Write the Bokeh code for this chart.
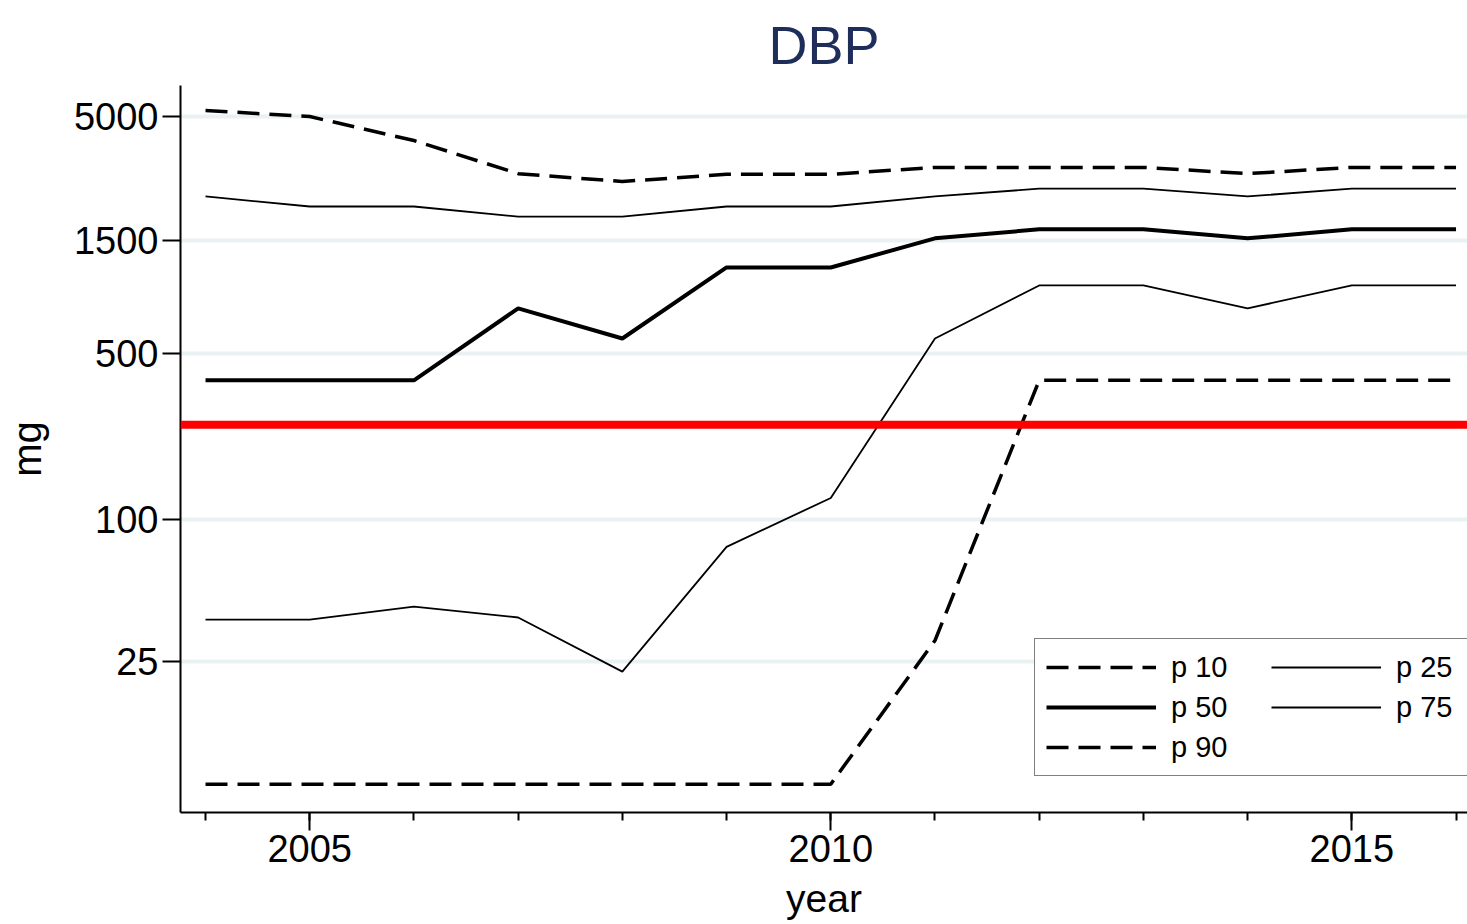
from bokeh.plotting import figure
from bokeh.models import (Range1d, FixedTicker, Legend, LegendItem, Span)
from bokeh.embed import file_html
from bokeh.resources import INLINE

years = list(range(2004, 2017))
p10 = [7.6, 7.6, 7.6, 7.6, 7.6, 7.6, 7.6, 30.7, 385, 385, 385, 385, 385]
p25 = [37.6, 37.6, 42.7, 38.4, 22.7, 76.3, 122.7, 578, 968, 968, 775, 968, 968]
p50 = [385, 385, 385, 775, 578, 1153, 1153, 1530, 1670, 1670, 1530, 1670, 1670]
p75 = [2300, 2085, 2085, 1890, 1890, 2085, 2085, 2300, 2480, 2480, 2300, 2480, 2480]
p90 = [5300, 5000, 3960, 2870, 2660, 2850, 2850, 3050, 3050, 3050, 2870, 3050, 3050]
limit_value = 250
y_ticks = [25, 100, 500, 1500, 5000]
x_ticks = [2005, 2010, 2015]

FONT = "Liberation Sans"

p = figure(width=1467, height=924, y_axis_type="log",
           x_range=Range1d(2003.76, 2016.11), y_range=Range1d(5.77, 6760),
           output_backend="svg", toolbar_location=None,
           min_border_left=180, min_border_right=0, min_border_top=85, min_border_bottom=112)

p.title.text = "DBP"
p.title.align = "center"
p.title.text_font = FONT
p.title.text_font_size = "54px"
p.title.text_font_style = "normal"
p.title.text_color = "#1f2d5a"
p.title.text_line_height = 0.7
p.title.standoff = 22

p.outline_line_color = None
p.xgrid.visible = False
p.ygrid.ticker = FixedTicker(ticks=y_ticks)
p.ygrid.grid_line_color = "#e9f1f3"
p.ygrid.grid_line_width = 4

xa = p.xaxis[0]
xa.ticker = FixedTicker(ticks=x_ticks, minor_ticks=years)
xa.major_tick_out = 18
xa.major_tick_in = 0
xa.minor_tick_out = 8
xa.minor_tick_in = 0
xa.major_label_text_font = FONT
xa.major_label_text_font_size = "38px"
xa.major_label_text_color = "black"
xa.major_label_standoff = 4
xa.axis_label = "year"
xa.axis_label_text_font = FONT
xa.axis_label_text_font_size = "39px"
xa.axis_label_text_font_style = "normal"
xa.axis_label_text_color = "black"
xa.axis_label_standoff = 12
xa.axis_line_width = 2
xa.major_tick_line_width = 2
xa.minor_tick_line_width = 2

ya = p.yaxis[0]
ya.ticker = FixedTicker(ticks=y_ticks)
ya.major_tick_out = 18
ya.major_tick_in = 0
ya.minor_tick_out = 0
ya.minor_tick_in = 0
ya.major_label_text_font = FONT
ya.major_label_text_font_size = "38px"
ya.major_label_text_color = "black"
ya.major_label_standoff = 4
ya.axis_label = "mg"
ya.axis_label_text_font = FONT
ya.axis_label_text_font_size = "40px"
ya.axis_label_text_font_style = "normal"
ya.axis_label_text_color = "black"
ya.axis_label_standoff = 22
ya.axis_line_width = 2
ya.major_tick_line_width = 2

r10 = p.line(years, p10, line_color="black", line_width=3.5, line_dash="22 10")
r25 = p.line(years, p25, line_color="black", line_width=1.8)
r50 = p.line(years, p50, line_color="black", line_width=4)
r75 = p.line(years, p75, line_color="black", line_width=1.8)
r90 = p.line(years, p90, line_color="black", line_width=3.5, line_dash="22 10")

p.add_layout(Span(location=limit_value, dimension="width", line_color="red", line_width=8))

legend = Legend(items=[
    LegendItem(label="p 10", renderers=[r10]),
    LegendItem(label="p 50", renderers=[r50]),
    LegendItem(label="p 90", renderers=[r90]),
    LegendItem(label="p 25", renderers=[r25]),
    LegendItem(label="p 75", renderers=[r75]),
], location=(854, 36), nrows=3, orientation="vertical",
    label_text_font=FONT, label_text_font_size="29px", label_text_color="black",
    glyph_width=110, glyph_height=34, spacing=6, padding=11, label_width=94,
    label_standoff=15, border_line_color="black", border_line_width=1.5,
    background_fill_alpha=1, margin=0)
p.add_layout(legend, "center")

open("out.html", "w").write(file_html(p, INLINE))
